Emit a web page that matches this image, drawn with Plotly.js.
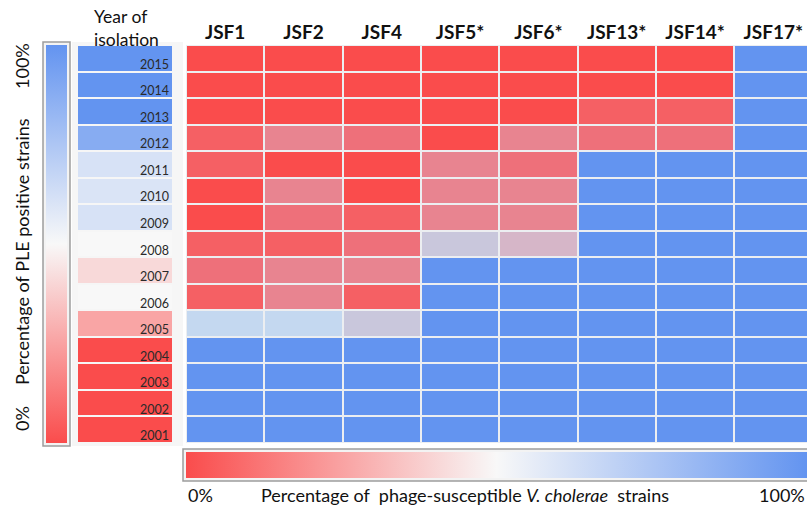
<!DOCTYPE html>
<html>
<head>
<meta charset="utf-8">
<script src="https://cdn.plot.ly/plotly-3.0.1.min.js"></script>
<style>html,body{margin:0;padding:0;background:#fff;}#chart{width:807px;height:506px;}</style>
</head>
<body>
<div id="chart"></div>
<script>
// ---- data ----
var years = ['2015','2014','2013','2012','2011','2010','2009','2008','2007','2006','2005','2004','2003','2002','2001'];
var phages = ['JSF1','JSF2','JSF4','JSF5*','JSF6*','JSF13*','JSF14*','JSF17*'];
// percentage of PLE positive strains per year
var plePositive = [100,100,100,88,61,60,61,50,41,50,26,0,0,0,0];
// percentage of phage-susceptible strains, per phage (2015 -> 2001)
var jsf1  = [0,0,0,5,5,0,0,5,10,5,62,100,100,100,100];
var jsf2  = [0,0,0,16,0,16,10,5,16,16,62,100,100,100,100];
var jsf4  = [0,0,0,10,0,0,5,10,16,5,50,100,100,100,100];
var jsf5  = [0,0,0,0,16,16,16,50,100,100,100,100,100,100,100];
var jsf6  = [0,0,0,16,10,16,16,40,100,100,100,100,100,100,100];
var jsf13 = [0,0,5,10,100,100,100,100,100,100,100,100,100,100,100];
var jsf14 = [0,0,5,10,100,100,100,100,100,100,100,100,100,100,100];
var jsf17 = [100,100,100,100,100,100,100,100,100,100,100,100,100,100,100];

var cols = [jsf1,jsf2,jsf4,jsf5,jsf6,jsf13,jsf14,jsf17];
var z = years.map(function(y,i){ return cols.map(function(c){ return c[i]; }); });
var zYear = plePositive.map(function(v){ return [v]; });

var W = 807, H = 506;
function px(x){ return x/W; }
function py(y){ return 1 - y/H; }

var FONT = 'Lato, "Open Sans", sans-serif';
var simpleScale = [[0,'rgb(250,76,76)'],[0.5,'rgb(248,248,248)'],[1,'rgb(99,148,240)']];
var cellScale = [[0,'rgb(250,76,76)'],[0.05,'rgb(245,96,100)'],[0.10,'rgb(238,112,122)'],
                 [0.16,'rgb(232,132,144)'],[0.40,'rgb(214,182,200)'],[0.50,'rgb(201,199,220)'],
                 [0.62,'rgb(196,216,240)'],[1,'rgb(99,148,240)']];

var traces = [
  {type:'heatmap', x:phages, y:years, z:z, zmin:0, zmax:100, colorscale:cellScale,
   showscale:false, xgap:2, ygap:2, xaxis:'x', yaxis:'y', hoverinfo:'x+y+z'},
  {type:'heatmap', x:['PLE'], y:years, z:zYear, zmin:0, zmax:100, colorscale:simpleScale,
   xgap:0, ygap:2, xaxis:'x2', yaxis:'y', hoverinfo:'y+z',
   showscale:true,
   colorbar:{orientation:'v', x:px(46), xanchor:'left', y:py(244), yanchor:'middle',
     len:398, lenmode:'pixels', thickness:21, thicknessmode:'pixels', xpad:0, ypad:0,
     outlinewidth:0, showticklabels:false, ticks:''}},
  {type:'scatter', mode:'markers', x:[phages[0],phages[0]], y:[years[14],years[14]],
   xaxis:'x', yaxis:'y', hoverinfo:'skip', showlegend:false,
   marker:{size:1, opacity:0, color:[0,100], cmin:0, cmax:100, colorscale:simpleScale, showscale:true,
     line:{width:0},
     colorbar:{orientation:'h', x:px(186), xanchor:'left', y:py(478), yanchor:'bottom',
       len:621, lenmode:'pixels', thickness:26, thicknessmode:'pixels', xpad:0, ypad:0,
       outlinewidth:0, showticklabels:false, ticks:''}}}
];

var annotations = [];
years.forEach(function(y, i){
  // category axes: numeric position = index of the category
  annotations.push({xref:'x2', yref:'y', x:0.5, y:i, text:y, showarrow:false,
    xanchor:'right', yanchor:'middle', xshift:-1, yshift:-6,
    font:{family:FONT, size:12.5, color:'#2a2a2a'}});
});
var tf = {family:FONT, size:18, color:'#111'};
annotations.push(
  {xref:'paper', yref:'paper', x:px(92), y:py(28), xanchor:'left', yanchor:'middle', align:'left',
   text:'Year of<br>isolation', showarrow:false, font:{family:FONT, size:17.5, color:'#111'}},
  {xref:'paper', yref:'paper', x:px(22), y:py(66), xanchor:'center', yanchor:'middle', textangle:-90,
   text:'100%', showarrow:false, font:tf},
  {xref:'paper', yref:'paper', x:px(22), y:py(252), xanchor:'center', yanchor:'middle', textangle:-90,
   text:'Percentage of PLE positive strains', showarrow:false, font:tf},
  {xref:'paper', yref:'paper', x:px(22), y:py(419), xanchor:'center', yanchor:'middle', textangle:-90,
   text:'0%', showarrow:false, font:tf},
  {xref:'paper', yref:'paper', x:px(186), y:py(495), xanchor:'left', yanchor:'middle', text:'0%', showarrow:false,
   font:tf},
  {xref:'paper', yref:'paper', x:px(465), y:py(495), xanchor:'center', yanchor:'middle',
   text:'Percentage of&nbsp; phage-susceptible <i>V. cholerae</i>&nbsp; strains', showarrow:false,
   font:tf},
  {xref:'paper', yref:'paper', x:px(807), y:py(495), xanchor:'right', yanchor:'middle', text:'100%', showarrow:false,
   font:tf}
);

var shapes = [
  {type:'rect', xref:'paper', yref:'paper', x0:px(43), x1:px(70), y0:py(446), y1:py(42),
   line:{color:'#9d9d9d', width:1.5}, fillcolor:'#f3f3f3', layer:'below'},
  {type:'rect', xref:'paper', yref:'paper', x0:px(72), x1:px(183), y0:py(446), y1:py(42),
   line:{width:0}, fillcolor:'#f6f6f6', layer:'below'},
  {type:'rect', xref:'paper', yref:'paper', x0:px(183), x1:px(812), y0:py(481), y1:py(449),
   line:{color:'#9d9d9d', width:1.5}, fillcolor:'#f3f3f3', layer:'below'}
];

var layout = {
  width:W, height:H, margin:{l:0,r:0,t:0,b:0,pad:0},
  paper_bgcolor:'#ffffff', plot_bgcolor:'#eceef1',
  font:{family:FONT, color:'#111'},
  showlegend:false,
  xaxis:{domain:[px(186),1], range:[-0.5,7.43], type:'category', side:'top', anchor:'y',
    showgrid:false, zeroline:false, showline:false, ticks:'', ticklabelstandoff:1,
    tickvals:phages, ticktext:phages.map(function(p){return '<b>'+p+'</b>';}),
    tickfont:{family:FONT, size:19, color:'#111'}, fixedrange:true},
  yaxis:{domain:[py(443),py(45)], type:'category', range:[14.5,-0.5], autorange:false, anchor:'x',
    showticklabels:false, showgrid:false, zeroline:false, ticks:'', fixedrange:true},
  xaxis2:{domain:[px(78),px(172)], type:'category', range:[-0.5,0.5], autorange:false, anchor:'y',
    showticklabels:false, showgrid:false, zeroline:false, ticks:'', fixedrange:true},
  annotations:annotations,
  shapes:shapes
};

Plotly.newPlot('chart', traces, layout, {displayModeBar:false, staticPlot:true});
</script>
</body>
</html>
